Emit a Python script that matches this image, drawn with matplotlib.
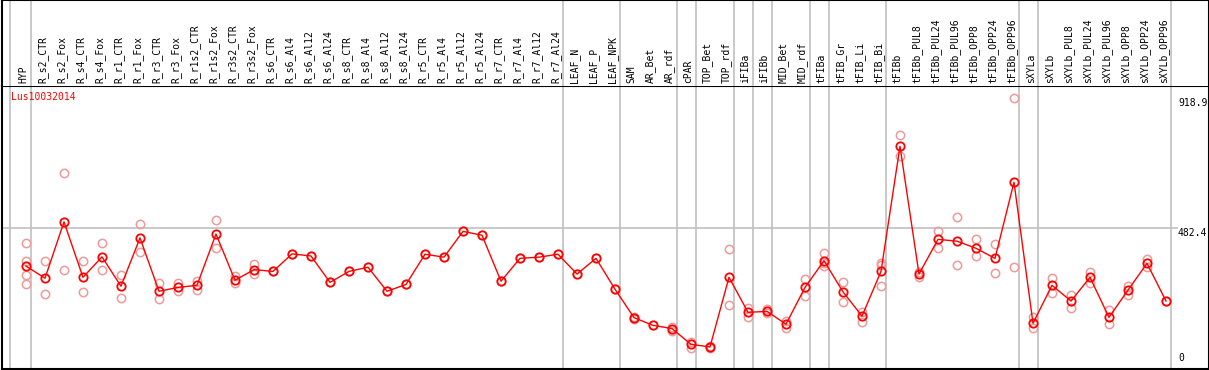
import matplotlib
matplotlib.use("Agg")
import matplotlib.pyplot as plt

# noms des echantillons (en-tete)
samples = [
    "HYP", "R_s2_CTR", "R_s2_Fox", "R_s4_CTR", "R_s4_Fox", "R_r1_CTR", "R_r1_Fox",
    "R_r3_CTR", "R_r3_Fox", "R_r1s2_CTR", "R_r1s2_Fox", "R_r3s2_CTR", "R_r3s2_Fox",
    "R_s6_CTR", "R_s6_Al4", "R_s6_Al12", "R_s6_Al24", "R_s8_CTR", "R_s8_Al4",
    "R_s8_Al12", "R_s8_Al24", "R_r5_CTR", "R_r5_Al4", "R_r5_Al12", "R_r5_Al24",
    "R_r7_CTR", "R_r7_Al4", "R_r7_Al12", "R_r7_Al24", "LEAF_N", "LEAF_P", "LEAF_NPK",
    "SAM", "AR_Bet", "AR_rdf", "cPAR", "TOP_Bet", "TOP_rdf", "iFIBa", "iFIBb",
    "MID_Bet", "MID_rdf", "tFIBa", "tFIB_Gr", "tFIB_Li", "tFIB_Bi", "tFIBb",
    "tFIBb_PUL8", "tFIBb_PUL24", "tFIBb_PUL96", "tFIBb_OPP8", "tFIBb_OPP24",
    "tFIBb_OPP96", "sXYLa", "sXYLb", "sXYLb_PUL8", "sXYLb_PUL24", "sXYLb_PUL96",
    "sXYLb_OPP8", "sXYLb_OPP24", "sXYLb_OPP96",
]

# moyennes (ligne rouge)
means = [
    353, 312, 502, 315, 384, 285, 448, 268, 281, 288, 461, 305, 341,
    335, 394, 387, 298, 335, 349, 268, 291, 393, 383, 470, 457,
    302, 379, 383, 393, 326, 379, 275,
    179, 153, 142, 89, 80, 315, 197, 200,
    157, 281, 371, 266, 184, 335, 757,
    326, 443, 437, 413, 379, 636,
    160, 288, 235, 315, 180, 272, 362, 235,
]

# replicats (cercles roses)
reps = [
    [430, 369, 322, 291], [369, 258], [666, 339], [369, 265], [430, 339],
    [322, 244], [494, 400], [296, 241], [295, 268], [302, 272], [507, 413],
    [319, 295], [359, 326],
    [335], [394], [387], [298], [335], [349], [268], [291], [393], [383],
    [470], [457], [302], [379], [383], [393], [326], [379], [275],
    [182, 175], [153], [148, 135], [98, 78], [84, 76], [410, 221],
    [211, 181], [208, 196], [167, 145], [308, 251], [396, 365, 352],
    [300, 231], [199, 165], [362, 358, 285], [794, 724],
    [333, 315], [470, 413], [518, 356], [443, 386], [426, 329], [918.9, 349],
    [180, 143], [313, 261], [254, 213], [334, 296], [204, 157], [285, 257],
    [378, 349], [235],
]

# fin des groupes (lignes verticales grises)
group_ends = [0, 28, 31, 34, 35, 37, 38, 39, 41, 42, 45, 52, 53, 60]

W, H = 1209, 370
grey = "#c0c0c0"
red = "#ff0000"
pink = "#ee9a9a"
mono = "DejaVu Sans Mono"

fig = plt.figure(figsize=(W / 100, H / 100), dpi=100)
x0 = 1.5 / W
x1 = 1208.5 / W
y_bot = 1.0 / H
y_hdr = (H - 85.5) / H
ax = fig.add_axes([x0, y_bot, x1 - x0, y_hdr - y_bot])
hx = fig.add_axes([x0, y_hdr, x1 - x0, 1 - y_hdr], sharex=ax)

# 26 px pour le premier point, 19 px par echantillon
px_left, px_right = 1.5, 1208.5
ax.set_xlim((px_left - 26) / 19, (px_right - 26) / 19)
ax.set_ylim(5.7, 962.2)
hx.set_ylim(0, 1)

for a in (ax, hx):
    a.set_xticks([])
    a.set_yticks([])
    for s in a.spines.values():
        s.set_color("black")
        s.set_linewidth(1.5)
hx.spines["bottom"].set_visible(False)

xs = list(range(len(samples)))
bounds = [(10 - 26) / 19] + [g + 0.24 for g in group_ends]
for b in bounds:
    ax.axvline(b, color=grey, lw=1.2, zorder=1)
    hx.axvline(b, color=grey, lw=1.2, zorder=1)

ax.plot([ax.get_xlim()[0], (1177 - 26) / 19], [482.4, 482.4], color=grey, lw=1.2, zorder=1)

for i, rr in enumerate(reps):
    ax.plot([i] * len(rr), rr, "o", ms=6, mfc="none", mec=pink, mew=1.1, zorder=2)
ax.plot(xs, means, "-", color=red, lw=1, zorder=3)
ax.plot(xs, means, "o", ms=6, mfc="none", mec=red, mew=1.3, zorder=4)

for i, name in enumerate(samples):
    hx.text(i - 0.13, 0.03, name, rotation=90, ha="center", va="bottom",
            fontsize=7, family=mono)

ax.text((10 - 26) / 19 + 0.05, 1 - 11.5 / 283.5, "Lus10032014", color=red, fontsize=7,
        family=mono, ha="left", va="center", transform=ax.get_xaxis_transform())

lx = (1178 - 26) / 19
for v, ty in [(918.9, 918.9), (482.4, 482.4)]:
    ax.text(lx, ty, "%.1f" % v, fontsize=7, family=mono, ha="left", va="top")
ax.text(lx, 0.02, "0", fontsize=7, family=mono, ha="left", va="bottom",
        transform=ax.get_xaxis_transform())

fig.savefig("out.png", dpi=100)
